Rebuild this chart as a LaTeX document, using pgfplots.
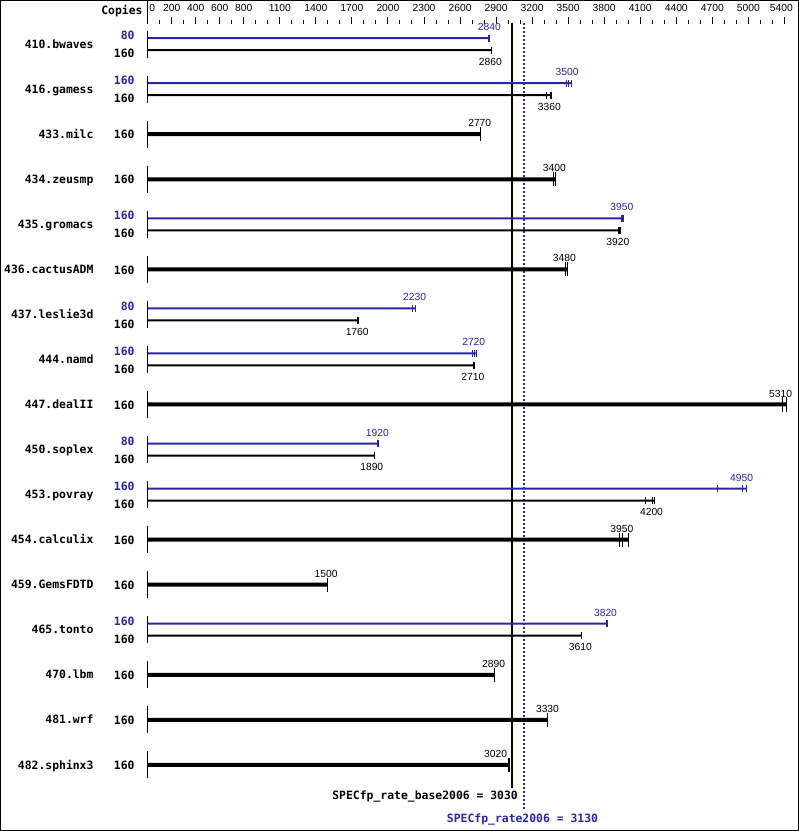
\documentclass[border=0pt]{standalone}
\usepackage{fontspec}
\setmainfont{Liberation Sans}
\newfontfamily\monofont{DejaVu Sans Mono}
\usepackage{pgfplots}
\pgfplotsset{compat=1.18}
\usepackage{pgfplotstable}
\definecolor{specblue}{RGB}{38,38,166}
\newcommand{\lab}{\monofont\bfseries\fontsize{11.4}{12}\selectfont}
\newcommand{\val}{\fontsize{10.3}{11}\selectfont}

% peak (blue) bars: end value, y position (px)
\pgfplotstableread{
x y
2845 37.5
3525 82.5
3958 217.5
2225 307.5
2733 352.5
1922 442.5
4985 487.5
3825 622.5
}\peakbars
\pgfplotstableread{
x y
2838 37.5
2845 37.5
3490 82.5
3506 82.5
3525 82.5
3942 217.5
3950 217.5
3958 217.5
2208 307.5
2225 307.5
2703 352.5
2719 352.5
2733 352.5
1914 442.5
1922 442.5
4740 487.5
4950 487.5
4985 487.5
3818 622.5
3825 622.5
}\peakruns
% base (black) thin bars in two-result rows
\pgfplotstableread{
x y
2866 49.5
3358 94.5
3933 229.5
1757 319.5
2717 364.5
1885 454.5
4220 499.5
3608 634.5
}\basebars
\pgfplotstableread{
x y
2858 49.5
2866 49.5
3322 94.5
3352 94.5
3358 94.5
3917 229.5
3925 229.5
3933 229.5
1750 319.5
1757 319.5
2710 364.5
2717 364.5
1885 454.5
4140 499.5
4200 499.5
4220 499.5
3608 634.5
}\baseruns
% base-only (thick) rows
\pgfplotstableread{
x y
2770 133.5
3395 178.5
3494 268.5
5314 403.5
4003 538.5
1500 583.5
2890 673.5
3331 718.5
3011 763.5
}\thickbars
\pgfplotstableread{
x y
2770 133.5
3380 178.5
3395 178.5
3478 268.5
3494 268.5
5286 403.5
5314 403.5
3931 538.5
3953 538.5
4003 538.5
1500 583.5
2890 673.5
3331 718.5
3003 763.5
3011 763.5
}\thickruns
% labels
\pgfplotstableread{
x y t
2844 26.5 2840
3492 71.5 3500
3947 206.5 3950
2222 296.5 2230
2714 341.5 2720
1911 431.5 1920
4944 476.5 4950
3811 611.5 3820
}\peaklabels
\pgfplotstableread{
x y t
2853 61 2860
3344 106 3360
3914 241 3920
1744 331 1760
2706 376 2710
1865 466 1890
4194 511 4200
3601 646 3610
2764 122.5 2770
3386 167.5 3400
3469 257.5 3480
5269 392.5 5310
3947 527.5 3950
1485 572.5 1500
2879 662.5 2890
3328 707.5 3330
2896 752.5 3020
}\baselabels
\pgfplotstableread{
x y t
-450 43.5 410.bwaves
-450 88.5 416.gamess
-450 133.5 433.milc
-450 178.5 434.zeusmp
-450 223.5 435.gromacs
-450 268.5 436.cactusADM
-450 313.5 437.leslie3d
-450 358.5 444.namd
-450 403.5 447.dealII
-450 448.5 450.soplex
-450 493.5 453.povray
-450 538.5 454.calculix
-450 583.5 459.GemsFDTD
-450 628.5 465.tonto
-450 673.5 470.lbm
-450 718.5 481.wrf
-450 763.5 482.sphinx3
}\names
\pgfplotstableread{
x y t
-108 35 80
-108 80 160
-108 215 160
-108 305 80
-108 350 160
-108 440 80
-108 485 160
-108 620 160
}\peakcopies
\pgfplotstableread{
x y t
-108 53 160
-108 98 160
-108 233 160
-108 323 160
-108 368 160
-108 458 160
-108 503 160
-108 638 160
-108 134 160
-108 179 160
-108 269 160
-108 404 160
-108 539 160
-108 584 160
-108 674 160
-108 719 160
-108 764 160
}\basecopies

\begin{document}
\begin{tikzpicture}
\begin{axis}[
  width=797pt, height=829pt, scale only axis,
  xmin=-1225, xmax=5416.7, ymin=0, ymax=829, y dir=reverse,
  axis line style={line width=1.2pt},
  xtick=\empty, ytick=\empty,
  clip=false,
]
% top ruler
\draw[line width=1pt] (axis cs:0,0) -- (axis cs:0,23.5);
\pgfplotsinvokeforeach{100,200,...,5300}{\draw[line width=1pt] (axis cs:#1,19.5) -- (axis cs:#1,23.5);}
\pgfplotsinvokeforeach{200,400,600,800,1100,1400,...,5000,5300}{\draw[line width=1pt] (axis cs:#1,16) -- (axis cs:#1,23.5);}
\pgfplotsinvokeforeach{200,400,600,800,1100,1400,...,5000}{\node[font=\val,inner sep=0pt] at (axis cs:#1,7) {#1};}
\node[font=\val,inner sep=0pt] at (axis cs:38,7) {0};
\node[font=\val,inner sep=0pt] at (axis cs:5275,7) {5400};
\node[font=\lab,inner sep=0pt,anchor=east,text height=8.3pt,text depth=0pt] at (axis cs:-42,9.7) {Copies};

% row axis segments
\addplot[only marks, mark=|, mark size=13.5, mark options={line width=1pt}] table[x expr=0, y=y] {\names};

% overall result lines
\addplot[line width=2pt, black] coordinates {(3030,22) (3030,787)};
\addplot[line width=2pt, specblue, dash pattern=on 2pt off 2pt] coordinates {(3130,22) (3130,808)};

% bars
\addplot[xbar, bar width=2, bar shift=0pt, fill=specblue, draw=none] table[x=x,y=y] {\peakbars};
\addplot[xbar, bar width=2, bar shift=0pt, fill=black, draw=none] table[x=x,y=y] {\basebars};
\addplot[xbar, bar width=4, bar shift=0pt, fill=black, draw=none] table[x=x,y=y] {\thickbars};

% individual runs
\addplot[only marks, mark=|, mark size=3.5, color=specblue, mark options={line width=1pt}] table[x=x,y=y] {\peakruns};
\addplot[only marks, mark=|, mark size=3.5, color=black, mark options={line width=1pt}] table[x=x,y=y] {\baseruns};
\addplot[only marks, mark=|, mark size=7, color=black, mark options={line width=1pt}] table[x=x,y=y] {\thickruns};

% value labels
\addplot[draw=none, mark=none, nodes near coords, point meta=explicit symbolic,
  nodes near coords style={anchor=center, font=\val, text=specblue, inner sep=0pt}]
  table[x=x,y=y,meta=t] {\peaklabels};
\addplot[draw=none, mark=none, nodes near coords, point meta=explicit symbolic,
  nodes near coords style={anchor=center, font=\val, text=black, inner sep=0pt}]
  table[x=x,y=y,meta=t] {\baselabels};

% benchmark names and copies
\addplot[draw=none, mark=none, nodes near coords, point meta=explicit symbolic,
  nodes near coords style={anchor=east, font=\lab, text=black, inner sep=0pt, text height=8.3pt, text depth=0pt}]
  table[x=x,y=y,meta=t] {\names};
\addplot[draw=none, mark=none, nodes near coords, point meta=explicit symbolic,
  nodes near coords style={anchor=east, font=\lab, text=specblue, inner sep=0pt, text height=8.3pt, text depth=0pt}]
  table[x=x,y=y,meta=t] {\peakcopies};
\addplot[draw=none, mark=none, nodes near coords, point meta=explicit symbolic,
  nodes near coords style={anchor=east, font=\lab, text=black, inner sep=0pt, text height=8.3pt, text depth=0pt}]
  table[x=x,y=y,meta=t] {\basecopies};

% summary texts
\node[font=\lab, anchor=east, inner sep=0pt, text height=8.3pt, text depth=0pt] at (axis cs:3083,794) {SPECfp\_rate\_base2006 = 3030};
\node[font=\lab, text=specblue, anchor=center, inner sep=0pt, text height=8.3pt, text depth=0pt] at (axis cs:3120,817) {SPECfp\_rate2006 = 3130};
\end{axis}
\end{tikzpicture}
\end{document}
